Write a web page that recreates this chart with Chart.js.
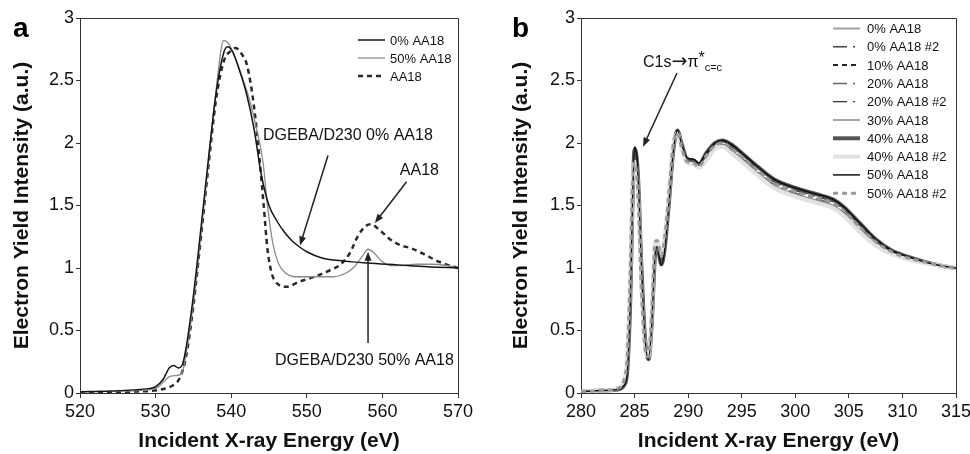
<!DOCTYPE html>
<html>
<head>
<meta charset="utf-8">
<script src="https://cdn.jsdelivr.net/npm/chart.js@4.4.1/dist/chart.umd.min.js"></script>
<style>
  html, body { margin: 0; padding: 0; background: #fff; overflow: hidden; }
  body { width: 970px; height: 454px; position: relative; }
  canvas { position: absolute; top: 0; }
  #chart-a { left: 0; }
  #chart-b { left: 485px; }
</style>
</head>
<body>
<canvas id="chart-a" width="485" height="454"></canvas>
<canvas id="chart-b" width="500" height="454"></canvas>
<script>
const FONT = '"Liberation Sans", Arial, Helvetica, sans-serif';

// shared y axis
const yTicks = [0, 0.5, 1, 1.5, 2, 2.5, 3];

// panel a : O K-edge
const xTicksA = [520, 530, 540, 550, 560, 570];
const labelsA = ['0% AA18', '50% AA18', 'AA18'];
const xA0 = [520, 524, 527, 529, 530, 531, 531.8, 532.4, 533, 533.5, 534, 535, 536, 537, 538, 539, 539.5, 540.2, 541, 542, 543, 544, 545, 546, 547, 548, 549, 550, 552, 555, 558, 562, 566, 570];
const yA0 = [0.01, 0.015, 0.025, 0.035, 0.05, 0.11, 0.2, 0.22, 0.2, 0.22, 0.35, 0.78, 1.32, 1.88, 2.4, 2.72, 2.77, 2.73, 2.6, 2.4, 2.12, 1.74, 1.5, 1.38, 1.29, 1.22, 1.17, 1.13, 1.08, 1.055, 1.04, 1.025, 1.01, 1.0];
const xA1 = [520, 525, 529, 530.3, 531.2, 532, 532.8, 533.5, 534, 535, 536, 537, 538, 539, 539.6, 540.5, 541.5, 542.5, 543.4, 544.2, 544.8, 545.5, 546.3, 547.2, 548.5, 550.5, 553.5, 555.2, 556.3, 557.3, 558.1, 558.9, 559.8, 561, 562.5, 564.5, 566.5, 568.5, 570];
const yA1 = [0.01, 0.015, 0.025, 0.045, 0.1, 0.135, 0.14, 0.16, 0.3, 0.72, 1.27, 1.85, 2.42, 2.82, 2.8, 2.68, 2.52, 2.33, 2.1, 1.85, 1.5, 1.2, 1.03, 0.96, 0.93, 0.93, 0.93, 0.96, 1.01, 1.09, 1.15, 1.12, 1.06, 1.02, 1.02, 1.03, 1.03, 1.02, 1.0];
const xA2 = [520, 525, 529, 530.5, 531.5, 532.5, 533.2, 534, 535, 536, 537, 538, 539, 540, 540.6, 541.3, 542.1, 543, 543.7, 544.3, 544.8, 545.4, 546.2, 547.3, 549, 551, 553, 554.5, 555.7, 556.8, 557.9, 558.5, 559.5, 561, 562.5, 563.7, 565.2, 567.5, 570];
const yA2 = [0.005, 0.01, 0.015, 0.025, 0.04, 0.07, 0.12, 0.28, 0.7, 1.25, 1.82, 2.35, 2.65, 2.74, 2.76, 2.72, 2.62, 2.3, 1.9, 1.5, 1.15, 0.95, 0.87, 0.85, 0.89, 0.93, 0.98, 1.03, 1.12, 1.26, 1.34, 1.35, 1.31, 1.23, 1.18, 1.16, 1.12, 1.05, 1.0];

const notesA = [
  { text: 'DGEBA/D230 0% AA18', x: 544.2, y: 2.06 },
  { text: 'AA18', x: 562.3, y: 1.78 },
  { text: 'DGEBA/D230 50% AA18', x: 545.8, y: 0.26 }
];
const arrowsA = [
  [552.8, 1.90, 549.1, 1.18],
  [563.2, 1.69, 559.0, 1.36],
  [558.1, 0.40, 558.1, 1.13]
];

// panel b : C K-edge
const xTicksB = [280, 285, 290, 295, 300, 305, 310, 315];
const labelsB = ['0% AA18', '0% AA18 #2', '10% AA18', '20% AA18', '20% AA18 #2', '30% AA18', '40% AA18', '40% AA18 #2', '50% AA18', '50% AA18 #2'];
const xB = [280, 282, 283.5, 284, 284.3, 284.6, 284.8, 285, 285.2, 285.4, 285.6, 285.8, 286, 286.3, 286.6, 286.9, 287.1, 287.5, 287.8, 288.2, 288.6, 289, 289.4, 289.9, 290.5, 291, 291.7, 292.5, 293.2, 294, 295, 296.5, 298, 300, 302, 303.5, 304.5, 306, 307.5, 309, 310.5, 312, 313.5, 315];
const yB1 = [0.01,0.02,0.04,0.08,0.22,0.88,1.58,1.88,1.82,1.52,1.0,0.63,0.37,0.28,0.6,1.17,1.21,1.08,1.21,1.57,1.95,2.08,1.96,1.85,1.84,1.81,1.88,1.96,1.98,1.94,1.87,1.76,1.66,1.59,1.54,1.5,1.44,1.31,1.2,1.12,1.07,1.04,1.02,1.0];
const yB2 = [0.01,0.02,0.03,0.07,0.17,0.78,1.52,1.93,1.87,1.57,1.06,0.68,0.39,0.27,0.56,1.12,1.19,1.04,1.16,1.53,1.94,2.1,1.98,1.87,1.86,1.83,1.92,2.0,2.02,1.98,1.91,1.8,1.7,1.63,1.58,1.54,1.48,1.35,1.23,1.14,1.09,1.05,1.02,1.0];
const yB3 = [0.01,0.02,0.04,0.08,0.19,0.83,1.54,1.92,1.85,1.54,1.02,0.64,0.38,0.28,0.58,1.15,1.2,1.06,1.19,1.55,1.95,2.09,1.97,1.86,1.85,1.82,1.9,1.98,2.0,1.96,1.89,1.78,1.68,1.61,1.56,1.52,1.46,1.33,1.21,1.13,1.08,1.05,1.02,1.0];
const yB4 = [0.01,0.02,0.04,0.08,0.2,0.85,1.55,1.88,1.83,1.52,1.0,0.63,0.37,0.28,0.6,1.17,1.21,1.07,1.2,1.56,1.95,2.09,1.97,1.86,1.85,1.82,1.89,1.97,1.99,1.95,1.88,1.77,1.67,1.6,1.55,1.51,1.45,1.32,1.2,1.12,1.08,1.05,1.02,1.0];
const yB5 = [0.01,0.02,0.03,0.06,0.16,0.76,1.5,1.94,1.88,1.58,1.07,0.69,0.4,0.27,0.55,1.1,1.18,1.03,1.15,1.52,1.93,2.1,1.99,1.87,1.86,1.83,1.91,1.99,2.01,1.97,1.9,1.79,1.69,1.62,1.57,1.53,1.47,1.34,1.22,1.13,1.08,1.05,1.02,1.0];
const yB6 = [0.01,0.02,0.04,0.1,0.26,0.95,1.62,1.86,1.78,1.45,0.93,0.58,0.35,0.29,0.63,1.19,1.22,1.09,1.23,1.59,1.97,2.08,1.95,1.84,1.83,1.8,1.87,1.96,1.98,1.93,1.86,1.75,1.65,1.58,1.53,1.49,1.43,1.3,1.19,1.11,1.07,1.04,1.02,1.0];
const yB7 = [0.01,0.02,0.03,0.06,0.16,0.75,1.5,1.95,1.88,1.58,1.08,0.7,0.41,0.27,0.55,1.1,1.18,1.03,1.15,1.52,1.93,2.1,1.99,1.87,1.86,1.83,1.92,2.0,2.02,1.99,1.92,1.81,1.71,1.64,1.59,1.55,1.49,1.36,1.23,1.14,1.09,1.05,1.02,1.0];
const yB8 = [0.01,0.02,0.04,0.1,0.27,0.97,1.64,1.85,1.77,1.44,0.92,0.57,0.34,0.29,0.64,1.2,1.22,1.1,1.24,1.6,1.98,2.08,1.95,1.84,1.83,1.8,1.86,1.95,1.97,1.92,1.85,1.74,1.64,1.57,1.52,1.48,1.42,1.29,1.18,1.11,1.07,1.04,1.02,1.0];
const yB9 = [0.01,0.02,0.03,0.06,0.15,0.72,1.48,1.97,1.9,1.6,1.1,0.71,0.41,0.27,0.54,1.09,1.17,1.02,1.14,1.51,1.92,2.1,1.99,1.88,1.87,1.84,1.92,2.0,2.02,1.99,1.92,1.81,1.71,1.64,1.59,1.55,1.49,1.36,1.23,1.14,1.09,1.05,1.02,1.0];
const yB10 = [0.01,0.02,0.04,0.1,0.28,0.99,1.65,1.84,1.75,1.42,0.9,0.56,0.34,0.29,0.65,1.2,1.22,1.1,1.24,1.6,1.98,2.08,1.96,1.85,1.84,1.81,1.9,1.98,2.0,1.96,1.89,1.78,1.68,1.61,1.56,1.52,1.46,1.33,1.21,1.13,1.08,1.05,1.02,1.0];

const noteB = { x: 285.79, y: 2.66 };
const arrowsB = [[288.96, 2.56, 285.79, 1.97]];

function pts(xs, ys) {
  return xs.map((x, i) => ({ x: x, y: ys[i] }));
}

function line(label, xs, ys, color, width, dash, order) {
  return {
    label: label, data: pts(xs, ys), borderColor: color, borderWidth: width,
    borderDash: dash || [], pointRadius: 0, fill: false,
    cubicInterpolationMode: 'monotone', order: order || 0
  };
}

function drawArrow(ctx, x1, y1, x2, y2) {
  const a = Math.atan2(y2 - y1, x2 - x1);
  const c = Math.cos(a), s = Math.sin(a);
  ctx.beginPath();
  ctx.moveTo(x1, y1);
  ctx.lineTo(x2 - 6 * c, y2 - 6 * s);
  ctx.stroke();
  ctx.beginPath();
  ctx.moveTo(x2, y2);
  ctx.lineTo(x2 - 9 * c + 3.5 * s, y2 - 9 * s - 3.5 * c);
  ctx.lineTo(x2 - 9 * c - 3.5 * s, y2 - 9 * s + 3.5 * c);
  ctx.closePath();
  ctx.fill();
}

// frame, in-plot legend, notes and arrows
const deco = {
  id: 'deco',
  afterDraw(chart, args, o) {
    const ctx = chart.ctx;
    const { left, right, top, bottom } = chart.chartArea;
    const sx = chart.scales.x, sy = chart.scales.y;
    ctx.save();
    ctx.strokeStyle = '#333';
    ctx.lineWidth = 1;
    ctx.beginPath();
    ctx.moveTo(Math.round(left), Math.round(top) + 0.5);
    ctx.lineTo(Math.round(right) + 0.5, Math.round(top) + 0.5);
    ctx.lineTo(Math.round(right) + 0.5, Math.round(bottom));
    ctx.stroke();

    // legend
    ctx.font = '13px ' + FONT;
    ctx.textBaseline = 'middle';
    ctx.textAlign = 'left';
    chart.data.datasets.forEach((ds, i) => {
      const y = top + o.legTop + i * o.legStep;
      const x0 = right - o.legX;
      ctx.save();
      ctx.strokeStyle = ds.borderColor;
      ctx.lineWidth = ds.borderWidth;
      ctx.setLineDash(ds.borderDash || []);
      ctx.beginPath();
      ctx.moveTo(x0, y);
      ctx.lineTo(x0 + o.legLen, y);
      ctx.stroke();
      ctx.restore();
      ctx.fillStyle = '#111';
      ctx.fillText(ds.label, x0 + o.legLen + o.legGap, y + 1);
    });

    // arrows
    ctx.strokeStyle = '#222';
    ctx.fillStyle = '#222';
    ctx.lineWidth = 1.5;
    (o.arrows || []).forEach(a => {
      drawArrow(ctx, sx.getPixelForValue(a[0]), sy.getPixelForValue(a[1]),
        sx.getPixelForValue(a[2]), sy.getPixelForValue(a[3]));
    });

    // notes
    ctx.fillStyle = '#111';
    ctx.font = '16px ' + FONT;
    (o.notes || []).forEach(n => {
      ctx.fillText(n.text, sx.getPixelForValue(n.x), sy.getPixelForValue(n.y));
    });
    if (o.c1s) {
      let x = sx.getPixelForValue(o.c1s.x);
      const y = sy.getPixelForValue(o.c1s.y);
      ctx.textBaseline = 'alphabetic';
      ctx.font = '16px ' + FONT;
      ctx.fillText('C1s', x, y + 6);
      x += ctx.measureText('C1s').width;
      ctx.font = '19px "DejaVu Sans", sans-serif';
      ctx.fillText('\u2192', x, y + 6);
      x += ctx.measureText('\u2192').width;
      ctx.font = '16px ' + FONT;
      ctx.fillText('\u03c0', x, y + 6);
      x += ctx.measureText('\u03c0').width;
      ctx.fillText('*', x, y + 2);
      x += ctx.measureText('*').width;
      ctx.font = '11px ' + FONT;
      ctx.fillText('c=c', x, y + 10);
    }

    // panel letter
    ctx.font = 'bold 28px ' + FONT;
    ctx.textBaseline = 'alphabetic';
    ctx.fillStyle = '#000';
    ctx.fillText(o.letter, o.letterX, 37);
    ctx.restore();
  }
};

function makeChart(id, datasets, xMin, xMax, xTicks, yWidth, titlePad, padRight, decoOpts) {
  return new Chart(document.getElementById(id), {
    type: 'line',
    data: { datasets: datasets },
    plugins: [deco],
    options: {
      responsive: false,
      animation: false,
      devicePixelRatio: 1,
      events: [],
      layout: { padding: { left: 0, top: 18, right: padRight, bottom: 0 } },
      plugins: { legend: { display: false }, tooltip: { enabled: false }, deco: decoOpts },
      scales: {
        x: {
          type: 'linear', min: xMin, max: xMax,
          afterBuildTicks: s => { s.ticks = xTicks.map(v => ({ value: v })); },
          afterFit: s => { s.height = 61; },
          grid: { display: true, drawOnChartArea: false, drawTicks: true, tickLength: 5, color: '#333' },
          border: { display: true, color: '#333', width: 1 },
          ticks: { color: '#111', font: { family: FONT, size: 18 }, padding: 3, maxRotation: 0, autoSkip: false, callback: v => String(v) },
          title: { display: true, text: 'Incident X-ray Energy (eV)', color: '#111', font: { family: FONT, size: 21, weight: 'bold' }, padding: { top: 0, bottom: 0 } }
        },
        y: {
          type: 'linear', min: 0, max: 3,
          afterBuildTicks: s => { s.ticks = yTicks.map(v => ({ value: v })); },
          afterFit: s => { s.width = yWidth; },
          grid: { display: true, drawOnChartArea: false, drawTicks: true, tickLength: 4, color: '#333' },
          border: { display: true, color: '#333', width: 1 },
          ticks: { color: '#111', font: { family: FONT, size: 18 }, padding: 2, callback: v => String(v) },
          title: { display: true, text: 'Electron Yield Intensity (a.u.)', color: '#111', font: { family: FONT, size: 21, weight: 'bold' }, padding: { top: titlePad, bottom: 0 } }
        }
      }
    }
  });
}

makeChart('chart-a', [
  line(labelsA[0], xA0, yA0, '#151515', 1.5, []),
  line(labelsA[1], xA1, yA1, '#8a8a8a', 1.3, []),
  line(labelsA[2], xA2, yA2, '#2a2a2a', 2.5, [5, 4])
], 520, 570, xTicksA, 80, 10, 27, {
  letter: 'a', letterX: 13,
  legX: 100, legTop: 22, legStep: 18, legLen: 27, legGap: 5,
  notes: notesA, arrows: arrowsA
});

makeChart('chart-b', [
  line(labelsB[0], xB, yB1, '#a0a0a0', 2, [], 10),
  line(labelsB[1], xB, yB2, '#444444', 1.5, [14, 6, 2, 6], 9),
  line(labelsB[2], xB, yB3, '#222222', 2, [5, 4], 8),
  line(labelsB[3], xB, yB4, '#666666', 1.5, [14, 6, 2, 6], 7),
  line(labelsB[4], xB, yB5, '#333333', 1.2, [14, 6, 2, 6], 6),
  line(labelsB[5], xB, yB6, '#a8a8a8', 2, [], 5),
  line(labelsB[6], xB, yB7, '#555555', 4, [], 4),
  line(labelsB[7], xB, yB8, '#e2e2e2', 4, [], 3),
  line(labelsB[8], xB, yB9, '#111111', 1.5, [], 2),
  line(labelsB[9], xB, yB10, '#999999', 3, [5, 4], 1)
], 280, 315, xTicksB, 96, 24, 29, {
  letter: 'b', letterX: 27,
  legX: 123, legTop: 10.5, legStep: 18.3, legLen: 27, legGap: 7,
  c1s: noteB, arrows: arrowsB
});
</script>
</body>
</html>
